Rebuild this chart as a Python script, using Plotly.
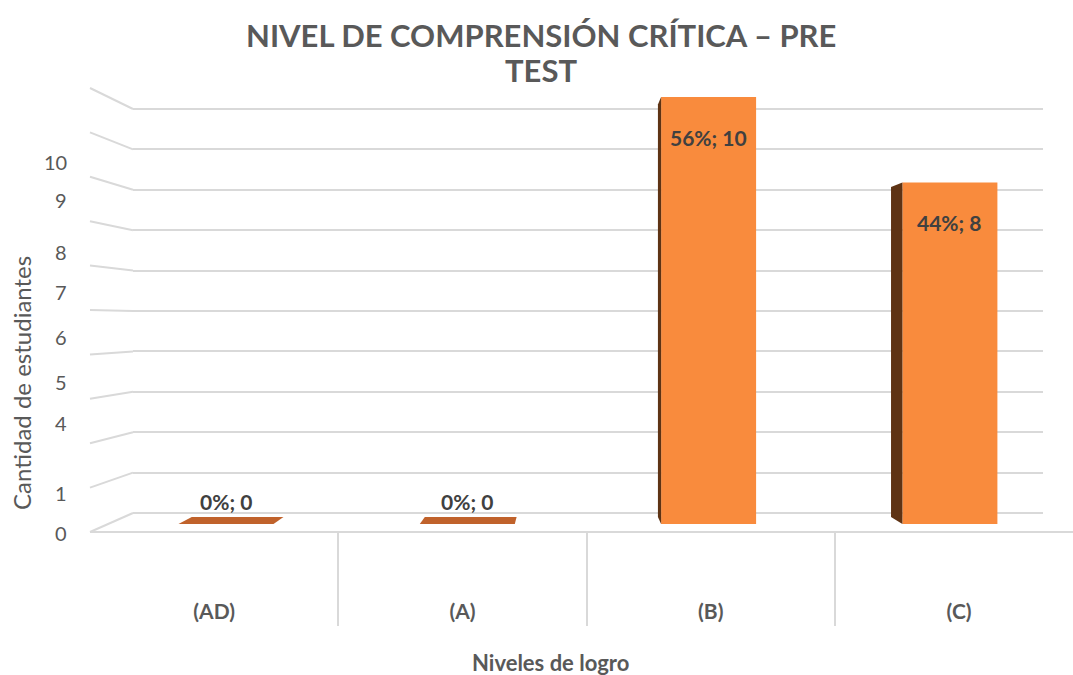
import plotly.graph_objects as go

# ---------------- data ----------------
CATEGORIES = ["(AD)", "(A)", "(B)", "(C)"]
VALUES = [0, 0, 10, 8]
WALL_GRID = list(range(0, 11))                      # gridlines on the back wall
TICK_LABELS = ["0", "1", "4", "5", "6", "7", "8", "9", "10"]
TICK_POS_PX = [533, 493, 423, 382, 337, 292, 252, 200, 162]   # label centres (px from top)
TITLE = "NIVEL DE COMPRENSIÓN CRÍTICA – PRE<br>TEST"
Y_TITLE = "Cantidad de estudiantes"
X_TITLE = "Niveles de logro"

# ---------------- styling / geometry ----------------
W, H = 1073, 675
GRID = "#D9D9D9"
TXT = "#595959"
LBL = "#404040"
FRONT = "#F98B3D"
SIDE = "#5E3314"
TOP0 = "#C0622B"
FONT = "Lato"


def fx(p):
    return p / W


def fy(p):
    return 1 - p / H


# back wall mapping (px)
WALL_X0, WALL_X1 = 133, 1043
WALL_Y0, WALL_STEP_B = 513, 40.4
WALL_PAD = 0.5
FRONT_X0, FRONT_Y0, WALL_STEP_F = 90, 532, 44.4

# bar axis mapping
BAR_C0, BAR_DX = 226, 241.3       # px of first bar centre, spacing
BAR_BASE, BAR_DY = 524, 42.7      # px of value 0, px per unit
BAR_W = 95 / BAR_DX
VP = ((568 - BAR_C0) / BAR_DX, (BAR_BASE - 321) / BAR_DY)   # vanishing point in data units
DEPTH_S = 0.966

fig = go.Figure()

# dummy traces to anchor the helper subplots
fig.add_trace(go.Scatter(x=[0.5], y=[5], xaxis="x", yaxis="y", mode="markers",
                         marker=dict(opacity=0), hoverinfo="skip", showlegend=False))
fig.add_trace(go.Scatter(x=CATEGORIES, y=[0.5] * len(CATEGORIES), xaxis="x2", yaxis="y2",
                         mode="markers", marker=dict(opacity=0), hoverinfo="skip",
                         showlegend=False))


def back(px_, py_):
    return VP[0] + (px_ - VP[0]) * DEPTH_S, VP[1] + (py_ - VP[1]) * DEPTH_S


# side / top faces of the 3D columns
for i, v in enumerate(VALUES):
    L, R = i - BAR_W / 2, i + BAR_W / 2
    faces = []
    if L > VP[0] and v > 0:
        b1, b2 = back(L, v), back(L, 0)
        faces.append(([L, L, b1[0], b2[0], L], [0, v, b1[1], b2[1], 0], SIDE))
    if R < VP[0] and v > 0:
        b1, b2 = back(R, v), back(R, 0)
        faces.append(([R, R, b1[0], b2[0], R], [0, v, b1[1], b2[1], 0], SIDE))
    if v < VP[1]:
        b1, b2 = back(R, v), back(L, v)
        faces.append(([L, R, b1[0], b2[0], L], [v, v, b1[1], b2[1], v], TOP0 if v == 0 else FRONT))
    for xs, ys, col in faces:
        fig.add_trace(go.Scatter(x=xs, y=ys, xaxis="x3", yaxis="y3", mode="lines",
                                 fill="toself", fillcolor=col, line=dict(width=0, color=col),
                                 hoverinfo="skip", showlegend=False))

# front faces
fig.add_trace(go.Bar(x=list(range(len(VALUES))), y=VALUES, width=BAR_W, xaxis="x3", yaxis="y3",
                     marker=dict(color=FRONT, line=dict(width=0)), hoverinfo="skip",
                     showlegend=False))

# data labels
total = sum(VALUES)
annotations = []
for i, v in enumerate(VALUES):
    pct = round(v / total * 100)
    lab_font = dict(family=FONT, size=21, color=LBL, weight="bold")
    if v > 0:
        annotations.append(dict(x=i, y=v, xref="x3", yref="y3", text=f"{pct}%; {v}",
                                showarrow=False, yanchor="top", yshift=-26, font=lab_font))
    else:
        annotations.append(dict(x=i, y=v, xref="x3", yref="y3", text=f"{pct}%; {v}",
                                showarrow=False, yanchor="bottom", yshift=8, font=lab_font))

# y tick labels (as drawn by the 3D chart)
for lab, pos in zip(TICK_LABELS, TICK_POS_PX):
    annotations.append(dict(x=fx(69), y=fy(pos), xref="paper", yref="paper", text=lab,
                            showarrow=False, xanchor="right", yanchor="middle",
                            font=dict(family=FONT, size=20, color=TXT)))

annotations.append(dict(x=fx(22), y=fy(383), xref="paper", yref="paper", text=Y_TITLE,
                        textangle=-90, showarrow=False, xanchor="center", yanchor="middle",
                        font=dict(family=FONT, size=24, color=TXT)))
annotations.append(dict(x=fx(550), y=fy(662), xref="paper", yref="paper", text=X_TITLE,
                        showarrow=False, xanchor="center", yanchor="middle",
                        font=dict(family=FONT, size=22, color=TXT, weight="bold")))
for line, cy in zip(TITLE.split("<br>"), [35, 70]):
    annotations.append(dict(x=fx(541), y=fy(cy), xref="paper", yref="paper", text=line,
                            showarrow=False, xanchor="center", yanchor="middle",
                            font=dict(family=FONT, size=31, color=TXT, weight="bold")))

# left wall lines and floor front edge
shapes = []
for k in WALL_GRID:
    shapes.append(dict(type="line", xref="paper", yref="paper",
                       x0=fx(FRONT_X0), y0=fy(FRONT_Y0 - WALL_STEP_F * k),
                       x1=fx(WALL_X0), y1=fy(WALL_Y0 - WALL_STEP_B * k),
                       line=dict(color=GRID, width=2), layer="below"))
shapes.append(dict(type="line", xref="paper", yref="paper", x0=fx(FRONT_X0), y0=fy(FRONT_Y0),
                   x1=1, y1=fy(FRONT_Y0), line=dict(color=GRID, width=2), layer="below"))

fig.update_layout(
    width=W, height=H,
    margin=dict(l=0, r=0, t=0, b=0),
    paper_bgcolor="white", plot_bgcolor="rgba(0,0,0,0)",
    showlegend=False,
    # back wall
    xaxis=dict(domain=[fx(WALL_X0), fx(WALL_X1)], range=[0, 1], showgrid=False,
               zeroline=False, showticklabels=False, ticks="", anchor="y"),
    yaxis=dict(domain=[fy(WALL_Y0 + WALL_PAD * WALL_STEP_B),
                       fy(WALL_Y0 - WALL_STEP_B * (10 + WALL_PAD))],
               range=[-WALL_PAD, 10 + WALL_PAD],
               tickmode="array", tickvals=WALL_GRID, showgrid=True, gridcolor=GRID,
               gridwidth=2, zeroline=False, showticklabels=False, ticks="", anchor="x"),
    # category strip
    xaxis2=dict(domain=[fx(FRONT_X0), 1], type="category", categoryorder="array",
                categoryarray=CATEGORIES,
                range=[-0.5, -0.5 + (W - FRONT_X0) / 248.3], tickson="boundaries",
                showgrid=True, gridcolor=GRID, gridwidth=2, zeroline=False, ticks="",
                ticklabelposition="inside", anchor="y2",
                tickfont=dict(family=FONT, size=21, color=TXT, weight="bold")),
    yaxis2=dict(domain=[fy(626), fy(FRONT_Y0)], range=[0, 1], showgrid=False,
                zeroline=False, showticklabels=False, ticks="", anchor="x2"),
    # bars
    xaxis3=dict(domain=[0, 1], range=[(0 - BAR_C0) / BAR_DX, (W - BAR_C0) / BAR_DX],
                visible=False, anchor="y3"),
    yaxis3=dict(domain=[fy(BAR_BASE), fy(BAR_BASE - BAR_DY * 10.5)], range=[0, 10.5],
                visible=False, anchor="x3"),
    annotations=annotations,
    shapes=shapes,
)

fig.write_html("out.html", config={"displayModeBar": False},
               post_script="document.body.style.margin='0px';document.body.style.overflow='hidden';")
